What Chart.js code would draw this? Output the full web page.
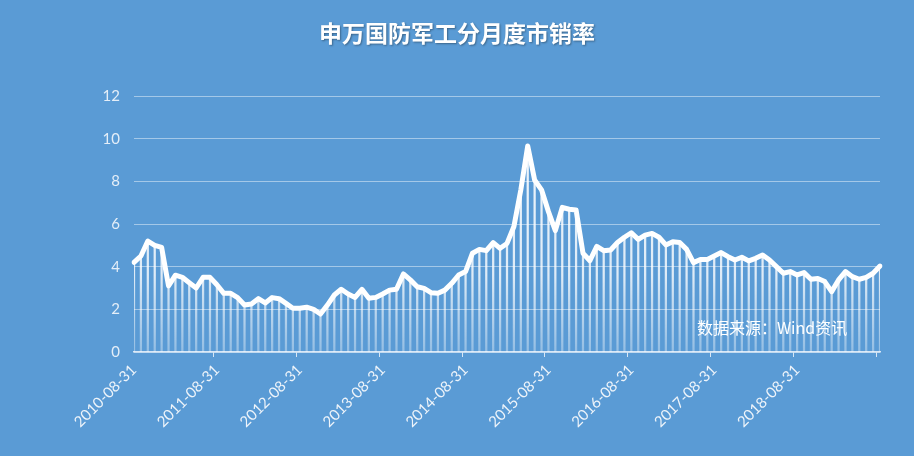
<!DOCTYPE html>
<html>
<head>
<meta charset="utf-8">
<script src="https://cdn.jsdelivr.net/npm/chart.js@4"></script>
<style>
  html, body { margin: 0; padding: 0; background: #5a9bd5; }
  .chart-container { width: 914px; height: 456px; }
</style>
</head>
<body>
<div class="chart-container"><canvas id="myChart"></canvas></div>
<script>
const titleText = '申万国防军工分月度市销率';
const sourceText = '数据来源：Wind资讯';

// month-end dates, 2010-08 .. 2019-08
const startYear = 2010, startMonth = 8, monthCount = 109;

const tickLabels = ['2010-08-31', '2011-08-31', '2012-08-31', '2013-08-31', '2014-08-31',
    '2015-08-31', '2016-08-31', '2017-08-31', '2018-08-31'];

const yTicks = [0, 2, 4, 6, 8, 10, 12];

// 市销率
const psRatio = [
    4.2, 4.5, 5.2, 5.0, 4.9, 3.1, 3.6, 3.5, 3.25, 3.0, 3.5, 3.5, 3.15, 2.75, 2.75, 2.55, 2.2, 2.25, 2.5, 2.3, 2.55, 2.5,
    2.28, 2.05, 2.05, 2.1, 2.0, 1.78, 2.2, 2.67, 2.94, 2.72, 2.56, 2.94, 2.52, 2.56, 2.72, 2.9, 2.94, 3.66, 3.38, 3.06, 2.98, 2.78, 2.75,
    2.9, 3.22, 3.61, 3.77, 4.63, 4.81, 4.75, 5.13, 4.86, 5.09, 5.88, 7.6, 9.66, 8.06, 7.6, 6.58, 5.69, 6.78, 6.69, 6.66, 4.63, 4.28, 4.95,
    4.75, 4.78, 5.13, 5.38, 5.59, 5.28, 5.48, 5.56, 5.38, 5.02, 5.17, 5.13, 4.81, 4.19, 4.34, 4.34, 4.5, 4.66, 4.47, 4.31, 4.44, 4.27,
    4.39, 4.55, 4.31, 4.0, 3.69, 3.77, 3.61, 3.72, 3.41, 3.45, 3.3, 2.83, 3.38, 3.77, 3.53, 3.41, 3.5, 3.69, 4.03
];

const dates = [];
for (let i = 0; i < monthCount; i++) {
    const y = startYear + Math.floor((startMonth - 1 + i) / 12);
    const m = (startMonth - 1 + i) % 12 + 1;
    const d = new Date(y, m, 0).getDate();
    dates.push(y + '-' + String(m).padStart(2, '0') + '-' + String(d).padStart(2, '0'));
}

const ctx = document.getElementById('myChart');

Chart.defaults.font.family = "Lato, 'Noto Sans CJK SC', sans-serif";
Chart.defaults.font.size = 13;

// title centred on the whole canvas + source note inside the plot
const textBits = {
    id: 'textBits',
    afterDatasetsDraw(chart) {
        const c = chart.ctx;
        c.save();
        c.font = "bold 23px 'Noto Sans CJK SC', sans-serif";
        c.fillStyle = '#ffffff';
        c.textAlign = 'center';
        c.textBaseline = 'middle';
        c.shadowColor = 'rgba(0,0,0,0.35)';
        c.shadowOffsetX = 1;
        c.shadowOffsetY = 1;
        c.shadowBlur = 2;
        c.fillText(titleText, chart.width / 2, 33);
        c.shadowColor = 'rgba(0,0,0,0)';
        c.font = "16px 'Noto Sans CJK SC', sans-serif";
        c.textAlign = 'left';
        c.fillText(sourceText, 697, 328);
        c.restore();
    }
};

const myChart = new Chart(ctx, {
    data: {
        labels: dates,
        datasets: [{
            type: 'line',
            label: '市销率',
            data: psRatio,
            borderColor: '#ffffff',
            borderWidth: 5,
            borderJoinStyle: 'round',
            borderCapStyle: 'round',
            pointRadius: 0,
            tension: 0,
            order: 0
        }, {
            type: 'bar',
            label: 'drop',
            data: psRatio,
            barThickness: 1.6,
            backgroundColor: function (c) {
                const area = c.chart.chartArea;
                if (!area) {
                    return 'rgba(255,255,255,0.8)';
                }
                const g = c.chart.ctx.createLinearGradient(0, area.top, 0, area.bottom);
                g.addColorStop(0, 'rgba(255,255,255,0.95)');
                g.addColorStop(0.7, 'rgba(255,255,255,0.8)');
                g.addColorStop(1, 'rgba(255,255,255,0.35)');
                return g;
            },
            order: 1
        }]
    },
    options: {
        responsive: true,
        maintainAspectRatio: false,
        animation: false,
        layout: {
            padding: { left: 0, right: 34, top: 96, bottom: 0 }
        },
        plugins: {
            legend: { display: false },
            tooltip: { enabled: false },
            title: { display: false }
        },
        scales: {
            x: {
                offset: false,
                grid: {
                    drawOnChartArea: false,
                    drawTicks: true,
                    tickLength: 5,
                    color: function (c) {
                        return c.index % 12 === 0 ? 'rgba(230,240,250,0.9)' : 'rgba(0,0,0,0)';
                    }
                },
                border: { color: 'rgba(230,240,250,0.9)', width: 1.5 },
                ticks: {
                    autoSkip: false,
                    minRotation: 45,
                    maxRotation: 45,
                    color: '#eef4fa',
                    font: { size: 15 },
                    padding: 4,
                    callback: function (value, index) {
                        const lab = dates[index];
                        return tickLabels.includes(lab) ? lab : '';
                    }
                },
                afterFit: function (scale) {
                    scale.height = 104;
                }
            },
            y: {
                min: 0,
                max: 12,
                afterBuildTicks: function (scale) {
                    scale.ticks = yTicks.map(v => ({ value: v }));
                },
                grid: {
                    color: 'rgba(255,255,255,0.45)',
                    lineWidth: 1,
                    drawTicks: false
                },
                border: { display: false },
                ticks: {
                    color: '#e4eef8',
                    font: { size: 15 },
                    padding: 14
                },
                afterFit: function (scale) {
                    scale.width = 134;
                }
            }
        }
    },
    plugins: [textBits]
});
</script>
</body>
</html>
